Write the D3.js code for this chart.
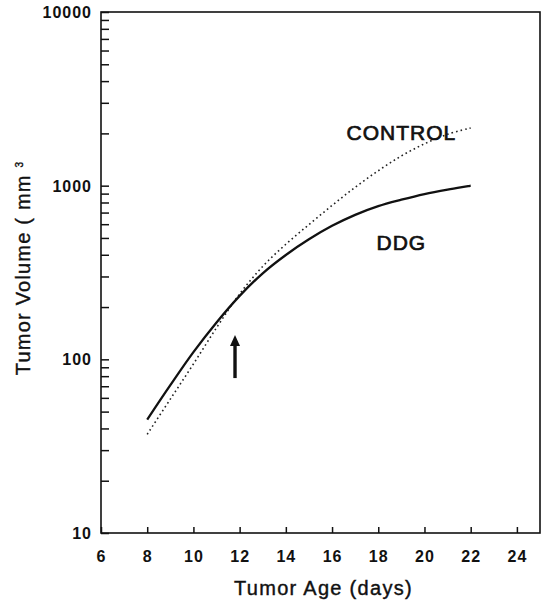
<!DOCTYPE html>
<html lang="en">
<head>
    <meta charset="UTF-8">
    <title>Tumor Volume</title>
    <style>
        body { margin: 0; background: #fff; }
        text { font-family: "Liberation Sans", Arial, sans-serif; fill: #111; }
        .tick line { stroke: #111; stroke-width: 1.5px; }
    </style>
</head>
<body>
<script src="https://d3js.org/d3.v7.min.js"></script>
<script>

    const width = 549;
    const height = 605;

    const days = [8, 9, 10, 11, 12, 13, 14, 15, 16, 17, 18, 19, 20, 21, 22];
    const control = [37, 59, 94, 152, 238, 343, 460, 597, 769, 979, 1219, 1483, 1742, 1977, 2150];
    const ddg = [45, 71, 110, 163, 232, 313, 399, 491, 587, 679, 762, 830, 895, 950, 1000];
    const xTicks = [6, 8, 10, 12, 14, 16, 18, 20, 22, 24];
    const yLabels = [10, 100, 1000, 10000];
    const arrow = {day: 11.8, from: 78, to: 138};
    const seriesLabels = [
        {text: 'CONTROL', day: 19.0, value: 1830},
        {text: 'DDG', day: 19.0, value: 425}
    ];

    const plotL = 101, plotR = 540, plotT = 12, plotB = 533;

    let svg = d3.select('body').append('svg')
        .attr('width', width)
        .attr('height', height);

    let x = d3.scaleLinear().domain([6, 25]).range([plotL, plotR]);
    let y = d3.scaleLog().domain([10, 10000]).range([plotB, plotT]);

    // frame
    svg.append('rect')
        .attr('x', plotL).attr('y', plotT)
        .attr('width', plotR - plotL).attr('height', plotB - plotT)
        .attr('fill', 'none').attr('stroke', '#111').attr('stroke-width', 1.6);

    // y axis, ticks pointing inward
    let yAxis = svg.append('g')
        .attr('transform', 'translate(' + plotL + ',0)')
        .call(d3.axisRight(y).tickSize(8)
            .tickFormat(d => yLabels.includes(d) ? d : ''));
    yAxis.select('.domain').remove();
    yAxis.selectAll('text')
        .attr('x', -9).attr('dy', '0.35em')
        .attr('text-anchor', 'end')
        .style('font-size', '16px').style('font-weight', 'bold')
        .style('letter-spacing', '1px');

    // x axis, ticks pointing up
    let xAxis = svg.append('g')
        .attr('transform', 'translate(0,' + plotB + ')')
        .call(d3.axisBottom(x).tickValues(xTicks).tickSize(-6).tickPadding(10));
    xAxis.select('.domain').remove();
    xAxis.selectAll('text')
        .attr('y', 29).attr('dy', 0)
        .style('font-size', '16px').style('font-weight', 'bold')
        .style('letter-spacing', '1px');

    let line = d3.line()
        .x((d, i) => x(days[i]))
        .y(d => y(d))
        .curve(d3.curveCatmullRom);

    svg.append('path')
        .attr('d', line(control))
        .attr('fill', 'none').attr('stroke', '#222')
        .attr('stroke-width', 1.6)
        .attr('stroke-dasharray', '1.6,3');

    svg.append('path')
        .attr('d', line(ddg))
        .attr('fill', 'none').attr('stroke', '#111')
        .attr('stroke-width', 2.3);

    // treatment arrow
    let ax = x(arrow.day), ay0 = y(arrow.from), ay1 = y(arrow.to);
    svg.append('line')
        .attr('x1', ax).attr('x2', ax)
        .attr('y1', ay0).attr('y2', ay1 + 8)
        .attr('stroke', '#111').attr('stroke-width', 3.4);
    svg.append('path')
        .attr('d', 'M' + ax + ',' + ay1 + 'L' + (ax - 5) + ',' + (ay1 + 11) + 'L' + (ax + 5) + ',' + (ay1 + 11) + 'Z')
        .attr('fill', '#111');

    svg.selectAll('.series-label')
        .data(seriesLabels)
        .enter().append('text')
        .attr('class', 'series-label')
        .attr('x', d => x(d.day))
        .attr('y', d => y(d.value))
        .attr('text-anchor', 'middle')
        .style('font-size', '21px')
        .style('letter-spacing', '1px')
        .style('stroke', '#111').style('stroke-width', 0.7)
        .text(d => d.text);

    // axis titles
    svg.append('text')
        .attr('x', (plotL + plotR) / 2 + 3)
        .attr('y', 595)
        .attr('text-anchor', 'middle')
        .style('font-size', '20px')
        .style('letter-spacing', '1.3px')
        .style('stroke', '#111').style('stroke-width', 0.4)
        .text('Tumor Age (days)');

    let yt = svg.append('text')
        .attr('transform', 'translate(30,268) rotate(-90)')
        .attr('text-anchor', 'middle')
        .style('font-size', '20px')
        .style('letter-spacing', '1.2px')
        .style('stroke', '#111').style('stroke-width', 0.4);
    yt.append('tspan').text('Tumor Volume ( mm ');
    yt.append('tspan').attr('dy', -7).style('font-size', '10px').text('3');

</script>
</body>
</html>
